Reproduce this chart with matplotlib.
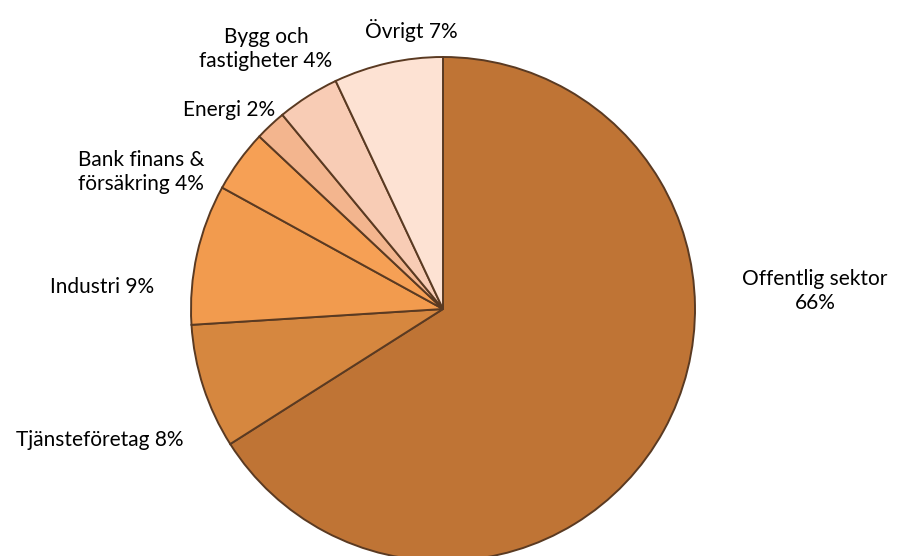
import matplotlib
matplotlib.use("Agg")
import matplotlib.pyplot as plt

categories = ["Offentlig sektor", "Tjänsteföretag", "Industri", "Bank finans &\nförsäkring",
              "Energi", "Bygg och\nfastigheter", "Övrigt"]
values = [66, 8, 9, 4, 2, 4, 7]
label_texts = ["Offentlig sektor\n66%", "Tjänsteföretag 8%", "Industri 9%", "Bank finans &\nförsäkring 4%",
               "Energi 2%", "Bygg och\nfastigheter 4%", "Övrigt 7%"]
colors = ["#BF7435", "#D6873F", "#F29B4E", "#F6A055", "#F3B58E", "#F8CCB5", "#FDE2D3"]

W, H = 899, 556
fig = plt.figure(figsize=(W / 100, H / 100), dpi=100)
cx, cy, r = 443, H - 309, 252
ax = fig.add_axes([(cx - r) / W, (cy - r) / H, 2 * r / W, 2 * r / H])

# bevel highlight (drawn underneath, slightly wider)
hl, _ = ax.pie(values, colors=colors, startangle=90, counterclock=False, radius=1,
               wedgeprops=dict(edgecolor=(1, 1, 1, 0.55), linewidth=4.5))
for w in hl:
    w.set_clip_on(False)
wedges, _ = ax.pie(values, colors=colors, startangle=90, counterclock=False, radius=1,
                   wedgeprops=dict(edgecolor="#5a3a22", linewidth=1.4))
for w in wedges:
    w.set_clip_on(False)
ax.set_xlim(-1, 1)
ax.set_ylim(-1, 1)
ax.set_aspect("equal")
ax.axis("off")

# label positions in figure pixels (centers)
pos = [(815, 291), (100, 440), (102, 287), (141, 172), (229, 110), (266, 49), (411, 30)]
for txt, (x, y) in zip(label_texts, pos):
    fig.text(x / W, 1 - y / H, txt, ha="center", va="center", fontsize=15,
             family="Lato", color="#000000", linespacing=1.2)

fig.savefig("out.png", dpi=100)
